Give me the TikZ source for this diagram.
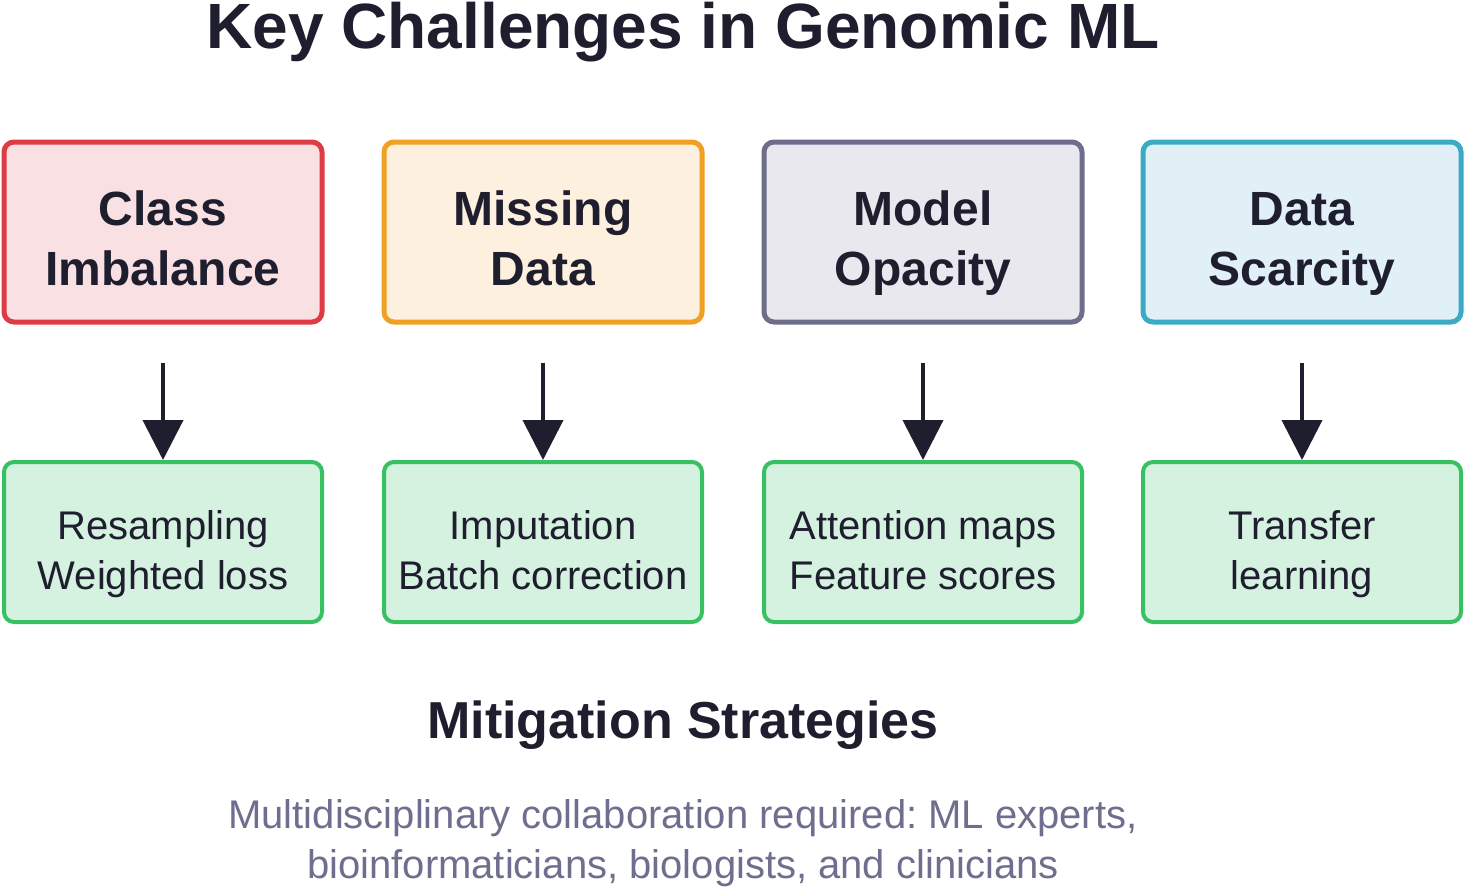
\documentclass[tikz,border=0pt]{standalone}
\usepackage{fontspec}
\setmainfont{Liberation Sans}
\usetikzlibrary{arrows.meta}
\frenchspacing
\definecolor{ink}{HTML}{1E1E2E}
\definecolor{redB}{HTML}{DD3C44}\definecolor{redF}{HTML}{F8E0E3}
\definecolor{orgB}{HTML}{F0A022}\definecolor{orgF}{HTML}{FDF0DE}
\definecolor{gryB}{HTML}{6E6E8C}\definecolor{gryF}{HTML}{E8E8EE}
\definecolor{tlB}{HTML}{3AAAC5}\definecolor{tlF}{HTML}{E1F0F6}
\definecolor{grnB}{HTML}{38C163}\definecolor{grnF}{HTML}{D5F2E0}
\definecolor{foot}{HTML}{6E6E8E}
\begin{document}
\begin{tikzpicture}[x=1pt,y=-1pt,
  chbox/.style={draw=#1B,fill=#1F,line width=5pt,rounded corners=10pt,minimum width=318pt,minimum height=180pt,inner sep=0pt},
  stbox/.style={draw=grnB,fill=grnF,line width=4pt,rounded corners=10pt,minimum width=318pt,minimum height=160pt,inner sep=0pt},
  chtxt/.style={text=ink,align=center,inner sep=0pt,font=\fontsize{48}{60}\selectfont\bfseries,yshift=-11pt},
  sttxt/.style={text=ink,align=center,inner sep=0pt,font=\fontsize{40}{50}\selectfont,yshift=-12pt},
  arr/.style={draw=ink,line width=4pt,-{Triangle[length=40pt,width=40pt]},shorten <=38pt}
]
\useasboundingbox[fill=white] (0,0) rectangle (1466,888);
\node[anchor=base,text=ink,font=\fontsize{64}{70}\selectfont\bfseries] (title) at (683,49) {Key Challenges in Genomic ML};

\node[chbox=red] (c1) at (163,232) {};
\node[chbox=org] (c2) at (543,232) {};
\node[chbox=gry] (c3) at (923,232) {};
\node[chbox=tl]  (c4) at (1302,232) {};
\node[chtxt] (c1t) at (c1) {\strut Class\\\strut Imbalance};
\node[chtxt] (c2t) at (c2) {\strut Missing\\\strut Data};
\node[chtxt] (c3t) at (c3) {\strut Model\\\strut Opacity};
\node[chtxt] (c4t) at (c4) {\strut Data\\\strut Scarcity};

\node[stbox] (s1) at (163,542) {};
\node[stbox] (s2) at (543,542) {};
\node[stbox] (s3) at (923,542) {};
\node[stbox] (s4) at (1302,542) {};
\node[sttxt] (s1t) at (s1) {\strut Resampling\\\strut Weighted loss};
\node[sttxt] (s2t) at (s2) {\strut Imputation\\\strut Batch correction};
\node[sttxt] (s3t) at (s3) {\strut Attention maps\\\strut Feature scores};
\node[sttxt] (s4t) at (s4) {\strut Transfer\\\strut learning};

\foreach \i in {1,2,3,4}{\draw[arr] (c\i.south) -- (s\i.north);}

\node[anchor=base,text=ink,font=\fontsize{52}{60}\selectfont\bfseries] (mit) at (683,738) {Mitigation Strategies};
\node[text=foot,align=center,inner sep=0pt,font=\fontsize{40}{50}\selectfont] (note) at (683,843) {\strut Multidisciplinary collaboration required: ML experts,\\\strut bioinformaticians, biologists, and clinicians};
\end{tikzpicture}
\end{document}
